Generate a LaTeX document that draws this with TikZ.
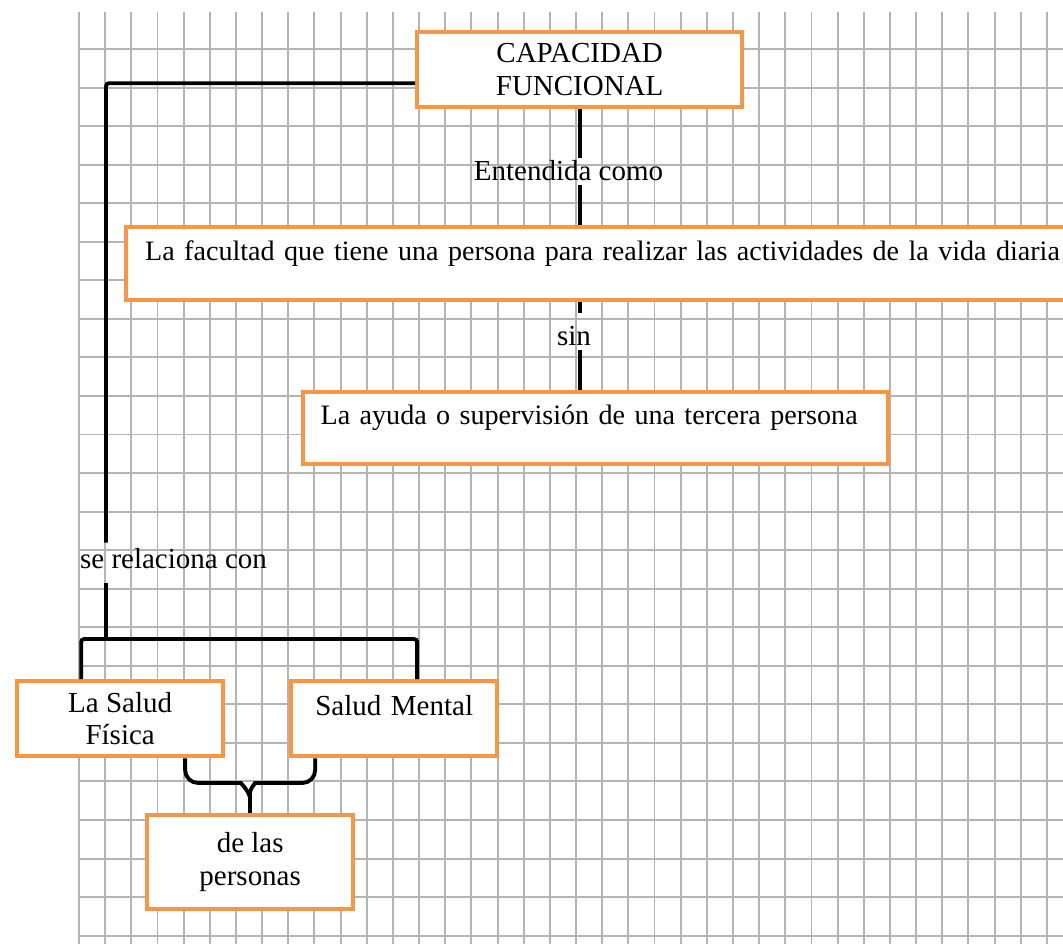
\documentclass[tikz,border=0pt]{standalone}
\usepackage{fontspec}
\setmainfont{Liberation Serif}

\definecolor{boxorange}{HTML}{F79646}
\definecolor{gridgray}{HTML}{B4B4B4}

\begin{document}
\begin{tikzpicture}[x=0.02cm,y=-0.02cm,
    font=\fontsize{16.5}{18.5}\selectfont,
    box/.style={draw=boxorange,line width=2.5pt,fill=white,anchor=north west,inner sep=0pt},
    link/.style={line width=2.2pt},
    tag/.style={inner sep=0pt,text depth=0.1cm}]
    \useasboundingbox (0,0) rectangle (1063,944);

    % Squared paper:
    % Vertical and horizontal lines with a plain loop each
    \foreach \i in {0,...,37}{%
        \draw [gridgray,line width=1.1pt] ({79+26.16*\i},12) -- ({79+26.16*\i},944);
    }
    \foreach \j in {0,...,23}{%
        \draw [gridgray,line width=1.1pt] (79,{49+38.55*\j}) -- (1063,{49+38.55*\j});
    }

    % Boxes:
    \node [box,minimum width=6.5cm,minimum height=1.5cm,align=center] (cap) at (415,30) {CAPACIDAD\\FUNCIONAL};
    \node [box,inner xsep=0.38cm,text width=19cm,align=left,text height=0.66cm,text depth=0.8cm,
        font=\fontsize{16}{18.5}\selectfont] (fac) at (124,225)
        {La facultad que tiene una persona para realizar las actividades de la vida diaria};
    \node [box,inner xsep=0.35cm,text width=11cm,align=left,text height=0.64cm,text depth=0.8cm,
        font=\fontsize{16}{18.5}\selectfont] (ayu) at (301,390)
        {La ayuda o supervisión de una tercera persona};
    \node [box,minimum width=4.12cm,minimum height=1.5cm,align=center] (fis) at (15,679) {La Salud\\Física};
    \node [box,text width=4.12cm,align=center,text height=0.68cm,text depth=0.82cm] (men) at (289,679) {Salud Mental};
    \node [box,minimum width=4.12cm,minimum height=1.88cm,align=center] (per) at (145,813) {de las\\personas};

    % Labels on the connectors:
    \node [tag,text height=0.44cm] (ent) at (568.5,171.5) {Entendida como};
    \node [tag,text height=0.64cm] (sin) at (574,331.5) {sin};
    \node [tag,text height=0.5cm,text depth=0.3cm] (rel) at (173.5,563) {se relaciona con};

    % Connectors:
    \draw [link] (cap.south) -- (cap.south |- ent.north);
    \draw [link] (cap.south |- ent.south) -- (cap.south |- fac.north);
    \draw [link] (cap.south |- fac.south) -- (cap.south |- sin.north);
    \draw [link] (cap.south |- sin.south) -- (cap.south |- ayu.north);

    \coordinate (knee) at (106,639);
    \coordinate (ftop) at ([xshift=-0.78cm]fis.north);
    \coordinate (mtop) at ([xshift=0.46cm]men.north);
    \draw [link,rounded corners=0.06cm] ([yshift=-0.27cm]cap.west) -| (knee |- rel.north);
    \draw [link] (knee |- rel.south) -- (knee);
    \draw [link,rounded corners=0.06cm] (ftop) |- (knee) -| (mtop);

    % Brace under the two health boxes:
    \coordinate (bl) at ([xshift=1.3cm]fis.south);
    \coordinate (br) at ([xshift=-1.58cm]men.south);
    \draw [link] (per.north) -- ++(0,-15) coordinate (tip);
    \draw [link] (bl) [rounded corners=0.26cm] |- (228,783) [sharp corners] .. controls (240,783) and (248,789) .. (tip);
    \draw [link] (br) [rounded corners=0.26cm] |- (268,783) [sharp corners] .. controls (256,783) and (248,789) .. (tip);
\end{tikzpicture}
\end{document}
